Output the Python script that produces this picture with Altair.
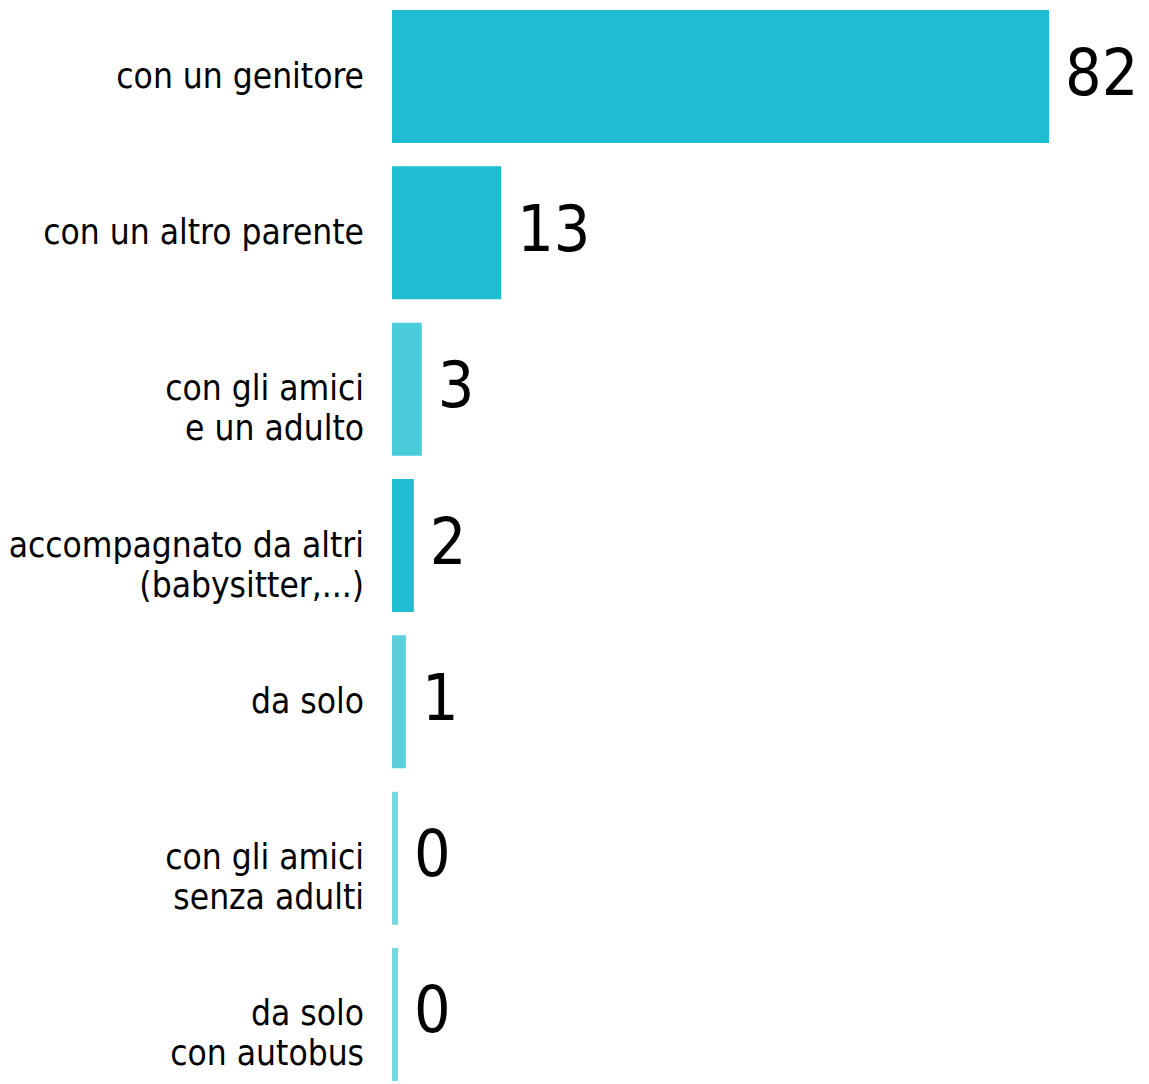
import altair as alt
import pandas as pd

categories = [
    "con un genitore",
    "con un altro parente",
    "con gli amici\ne un adulto",
    "accompagnato da altri\n(babysitter,...)",
    "da solo",
    "con gli amici\nsenza adulti",
    "da solo\ncon autobus",
]
values = [82, 13, 3, 2, 1, 0, 0]
bar_colors = ["#1ebdd2", "#1ebdd2", "#4acbd9", "#1ebdd2", "#5bcfdc", "#77d6e1", "#77d6e1"]

df = pd.DataFrame({"cat": categories, "value": values, "color": bar_colors})

xscale = alt.Scale(domain=[-0.75, 82], range=[384, 1041], zero=False, nice=False)
yscale = alt.Scale(paddingInner=0.149, paddingOuter=0.0128)
Y = alt.Y("cat:N", sort=categories, axis=None, scale=yscale)

base = alt.Chart(df)

bars = base.mark_bar().encode(
    x=alt.X("value:Q", scale=xscale, axis=None),
    x2=alt.datum(-0.75),
    y=Y,
    color=alt.Color("color:N", scale=None, legend=None),
)

labels = base.mark_text(
    align="right", baseline="middle", lineBreak="\n",
    font="DejaVu Sans Condensed", fontSize=35, lineHeight=40, color="#000000",
).encode(
    x=alt.value(356),
    y=Y,
    text="cat:N",
)

nums = base.mark_text(
    align="left", baseline="middle", dx=16, dy=-1,
    font="DejaVu Sans Condensed", fontSize=64, color="#000000",
).encode(
    x=alt.X("value:Q", scale=xscale, axis=None),
    y=Y,
    text="value:Q",
)

chart = (
    alt.layer(bars, labels, nums)
    .properties(width=1133, height=1075, autosize=alt.AutoSizeParams(type="none"), padding=0)
    .configure_view(stroke=None)
)

chart.save("out.html", embed_options={"renderer": "svg", "actions": False})
